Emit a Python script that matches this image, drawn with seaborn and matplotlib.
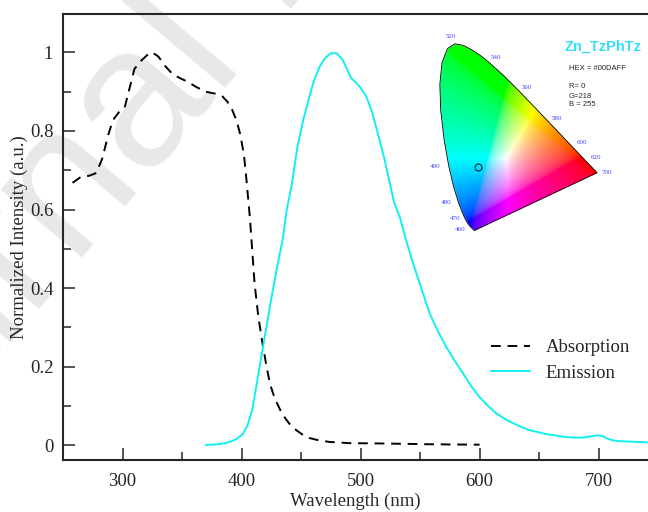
import numpy as np
import pandas as pd
import matplotlib
matplotlib.use("Agg")
import matplotlib.pyplot as plt
from matplotlib.path import Path
import seaborn as sns

# absorption spectrum
abs_nm = [258, 265, 272, 278, 283, 288, 292, 297, 302, 306, 310, 316, 322, 325,
          330, 336, 342, 348, 355, 362, 370, 378, 384, 388, 392, 396, 399, 402,
          404, 407, 411, 414, 417, 421, 424, 428, 434, 440, 446, 452, 457, 465,
          474, 490, 520, 560, 600]
abs_val = [0.668, 0.683, 0.686, 0.693, 0.73, 0.79, 0.828, 0.848, 0.862, 0.91,
           0.958, 0.98, 0.997, 1.0, 0.99, 0.965, 0.945, 0.935, 0.925, 0.912,
           0.9, 0.895, 0.888, 0.875, 0.855, 0.825, 0.79, 0.74, 0.68, 0.58, 0.41,
           0.33, 0.27, 0.2, 0.155, 0.118, 0.08, 0.055, 0.038, 0.025, 0.018,
           0.012, 0.008, 0.005, 0.004, 0.002, 0.001]

# emission spectrum
em_nm = [370, 380, 386, 391, 396, 401, 405, 409, 413, 417.6, 422, 426, 430,
         434.5, 438, 442, 447, 452, 457, 461, 465.5, 470, 475, 480, 485, 489,
         492, 496.6, 500, 505, 510, 516, 520, 524, 528, 533, 538, 544, 551, 558,
         565, 572, 579, 586, 593, 600, 607, 614, 621, 628, 635, 642, 649, 656,
         665, 673, 680, 687, 693, 699, 703, 707, 712, 718, 725, 733, 741]
em_val = [0.0, 0.002, 0.005, 0.009, 0.016, 0.028, 0.05, 0.09, 0.16, 0.242,
          0.32, 0.39, 0.455, 0.522, 0.6, 0.66, 0.76, 0.83, 0.887, 0.93, 0.963,
          0.985, 0.998, 0.998, 0.981, 0.955, 0.935, 0.922, 0.91, 0.887, 0.845,
          0.777, 0.73, 0.675, 0.62, 0.58, 0.525, 0.464, 0.4, 0.336, 0.29, 0.25,
          0.215, 0.183, 0.15, 0.122, 0.1, 0.081, 0.067, 0.056, 0.046, 0.038,
          0.033, 0.028, 0.024, 0.02, 0.019, 0.019, 0.022, 0.025, 0.023, 0.017,
          0.012, 0.01, 0.009, 0.008, 0.007]

# CIE 1931 spectral locus (x, y) for the inset
locus_nm = [440, 450, 460, 465, 470, 475, 480, 485, 490, 495, 500, 505, 510,
            515, 520, 525, 530, 535, 540, 550, 560, 570, 580, 590, 600, 610,
            620, 640, 660, 700]
locus_x = [0.1644, 0.1566, 0.1440, 0.1355, 0.1241, 0.1096, 0.0913, 0.0687,
           0.0454, 0.0235, 0.0082, 0.0039, 0.0139, 0.0389, 0.0743, 0.1142,
           0.1547, 0.1929, 0.2296, 0.3016, 0.3731, 0.4441, 0.5125, 0.5752,
           0.6270, 0.6658, 0.6915, 0.7190, 0.7300, 0.7347]
locus_y = [0.0109, 0.0177, 0.0297, 0.0399, 0.0578, 0.0868, 0.1327, 0.2007,
           0.2950, 0.4127, 0.5384, 0.6548, 0.7502, 0.8120, 0.8338, 0.8262,
           0.8059, 0.7816, 0.7543, 0.6923, 0.6245, 0.5547, 0.4866, 0.4242,
           0.3725, 0.3340, 0.3083, 0.2809, 0.2700, 0.2653]
label_nm = [460, 470, 480, 490, 520, 540, 560, 580, 600, 620, 700]
point_xy = (0.18, 0.29)

sns.set_style("ticks")
plt.rcParams["font.family"] = ["Liberation Serif", "DejaVu Serif"]

fig = plt.figure(figsize=(6.48, 5.12), dpi=100)
fig.patch.set_facecolor("white")

# watermark
fig.text(-0.272, -0.106, "Journal Pre-proof", rotation=50, rotation_mode="anchor",
         ha="left", va="baseline", fontsize=144, color="#e8e8e8",
         family="Liberation Sans", zorder=-5)

ax = fig.add_axes([63 / 648, 52 / 512, 1 - 63 / 648, 446 / 512])
ax.patch.set_visible(False)

df_abs = pd.DataFrame({"Wavelength": abs_nm, "Intensity": abs_val})
df_em = pd.DataFrame({"Wavelength": em_nm, "Intensity": em_val})
sns.lineplot(data=df_abs, x="Wavelength", y="Intensity", ax=ax, color="black",
             linestyle=(0, (5, 3.5)), linewidth=1.4, label="Absorption")
sns.lineplot(data=df_em, x="Wavelength", y="Intensity", ax=ax, color="#10f0f0",
             linewidth=1.4, label="Emission")

ax.set_xlim(250, 741.5)
ax.set_ylim(-0.038, 1.098)
ax.set_xticks([300, 400, 500, 600, 700])
ax.set_xticks(np.arange(250, 750, 50), minor=True)
ax.set_yticks([0, 0.2, 0.4, 0.6, 0.8, 1.0])
ax.set_yticks(np.arange(0, 1.05, 0.1), minor=True)
ax.set_yticklabels(["0", "0.2", "0.4", "0.6", "0.8", "1"])
ax.tick_params(which="major", direction="in", length=8.5, width=1.1,
               labelsize=13.5, pad=7)
ax.tick_params(which="minor", direction="in", length=5.5, width=1.1)
ax.tick_params(axis="x", pad=9)
for side in ["left", "bottom", "top"]:
    ax.spines[side].set_linewidth(1.5)
ax.spines["right"].set_visible(False)
ax.set_xlabel("Wavelength (nm)", fontsize=13.5, labelpad=2)
ax.set_ylabel("Normalized Intensity (a.u.)", fontsize=13.5, labelpad=1)

leg = ax.legend(loc="upper left", bbox_to_anchor=(491 / 648, 1 - 339 / 512),
                bbox_transform=fig.transFigure, frameon=False, fontsize=13.5,
                borderpad=0, borderaxespad=0, handlelength=2.1,
                handletextpad=0.8, labelspacing=0.45)

# CIE inset
ins = fig.add_axes([439 / 648, 279 / 512, 161.25 / 648, 195.2 / 512])
ins.set_xlim(0, 0.75)
ins.set_ylim(0, 0.86)
ins.axis("off")
gx, gy = np.meshgrid(np.linspace(0, 0.75, 300), np.linspace(0.001, 0.86, 340))
X = gx / gy
Z = (1 - gx - gy) / gy
R = 3.2406 * X - 1.5372 - 0.4986 * Z
G = -0.9689 * X + 1.8758 + 0.0415 * Z
B = 0.0557 * X - 0.2040 + 1.0570 * Z
rgb = np.clip(np.dstack([R, G, B]), 0, None)
rgb = rgb / rgb.max(axis=2, keepdims=True)
rgb = rgb ** (1 / 2.2)
poly = Path(np.column_stack([locus_x + [locus_x[0]], locus_y + [locus_y[0]]]))
inside = poly.contains_points(np.column_stack([gx.ravel(), gy.ravel()]))
rgba = np.dstack([rgb, inside.reshape(gx.shape).astype(float)])
ins.imshow(rgba, origin="lower", extent=(0, 0.75, 0.001, 0.86), aspect="auto",
           interpolation="bilinear")
ins.plot(locus_x + [locus_x[0]], locus_y + [locus_y[0]], color="black", lw=0.6)
ins.plot(*point_xy, marker="o", ms=5, mfc="none", mec="#222222", mew=0.8)

label_off = {460: (-3, -2, "right"), 470: (-4, 1, "right"), 480: (-5, 0, "right"),
             490: (-6, 0, "right"), 520: (-3, 5, "center"), 540: (2, 3, "left"),
             560: (2, 3, "left"), 580: (2, 3, "left"), 600: (2, 4, "left"),
             620: (2, 4, "left"), 700: (3, 0, "left")}
for nm in label_nm:
    i = locus_nm.index(nm)
    dx, dy, ha = label_off[nm]
    ins.annotate(str(nm), (locus_x[i], locus_y[i]), xytext=(dx, dy),
                 textcoords="offset points", ha=ha, va="center", fontsize=5,
                 color="#4444ff")

fig.text(603 / 648, 1 - 47 / 512, "Zn_TzPhTz", ha="center", va="center",
         fontsize=10.5, fontweight="bold", color="#33ddff",
         family="Liberation Sans")
fig.text(569 / 648, 1 - 68 / 512, "HEX = #00DAFF", ha="left", va="center",
         fontsize=5.5, family="Liberation Sans")
for k, txt in enumerate(["R= 0", "G=218", "B = 255"]):
    fig.text(569 / 648, 1 - (87 + 9 * k) / 512, txt, ha="left", va="center",
             fontsize=5.5, family="Liberation Sans")

fig.savefig("out.png", dpi=100)
